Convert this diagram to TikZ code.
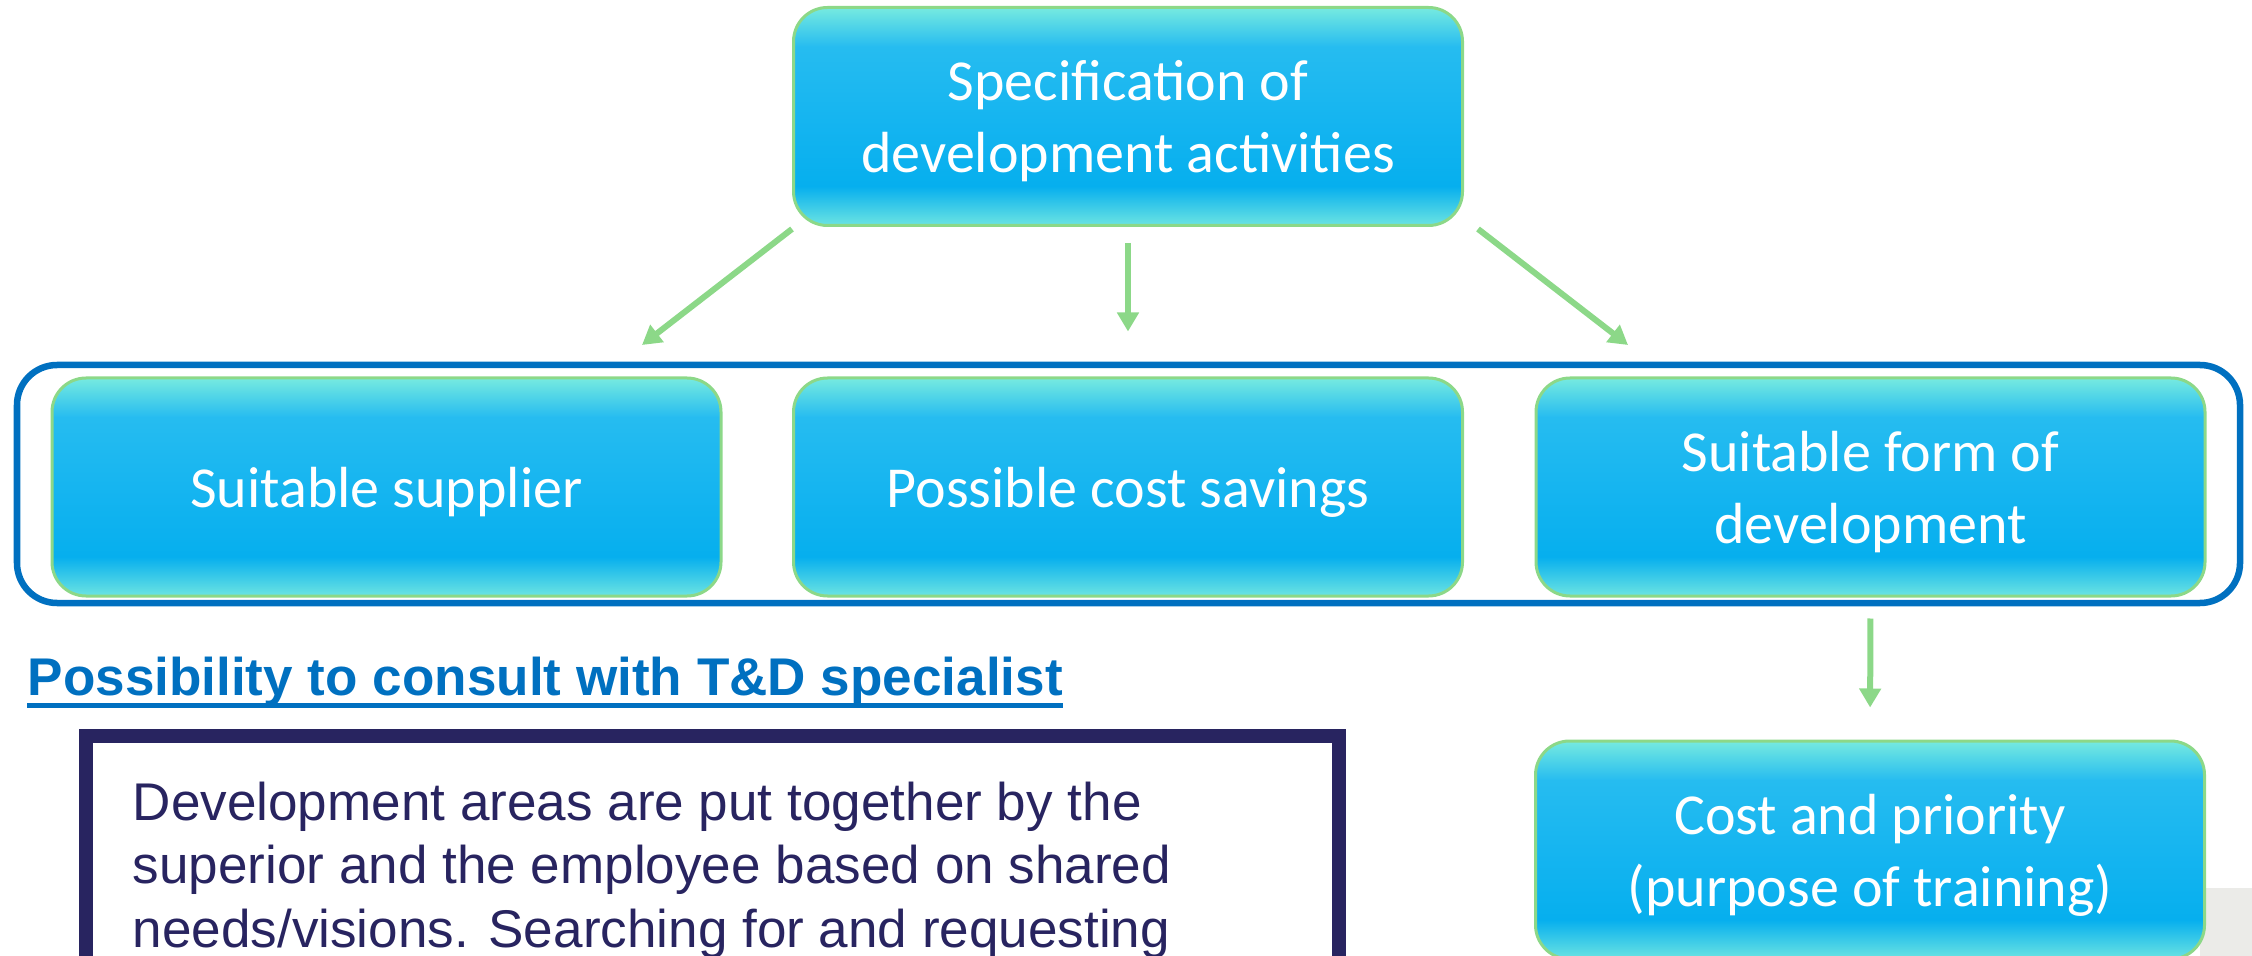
\documentclass[tikz,border=0pt]{standalone}
\usepackage{fontspec}
\setmainfont{Carlito}
\newfontfamily\arialfont{Liberation Sans}
\usepackage{xcolor}
\usepackage{tikz}
\usetikzlibrary{arrows.meta}

\definecolor{frameblue}{RGB}{0,112,192}
\definecolor{navy}{RGB}{40,36,96}
\definecolor{leafgreen}{RGB}{140,216,136}
\definecolor{greyback}{RGB}{235,235,232}
\definecolor{boxtop}{RGB}{118,234,224}
\definecolor{boxupper}{RGB}{38,188,240}
\definecolor{boxmid}{RGB}{22,181,240}
\definecolor{boxlow}{RGB}{6,175,238}
\definecolor{boxbottom}{RGB}{108,228,226}

\pgfdeclareverticalshading{boxshade}{100bp}{color(0bp)=(boxbottom); color(25bp)=(boxbottom);
  color(34bp)=(boxlow); color(50bp)=(boxmid); color(66bp)=(boxupper);
  color(75bp)=(boxtop); color(100bp)=(boxtop)}

\begin{document}
\begin{tikzpicture}[
  box/.style={draw=leafgreen, line width=0.03cm, rounded corners=0.34cm, shading=boxshade,
    minimum width=6.69cm, minimum height=2.18cm, inner sep=0, align=center, text depth=0pt,
    text=white, font=\fontsize{16.5}{20.5}\selectfont},
  arr/.style={draw=leafgreen, line width=0.06cm, -{Triangle[length=0.19cm,width=0.21cm]}},
  plain/.style={font=\arialfont\fontsize{15.1}{18.07}\selectfont, inner sep=0}
]
\useasboundingbox (0,0) rectangle (22.52,-9.56);
\clip (0,0) rectangle (22.52,-9.56);
\fill[greyback] (22.00,-8.88) rectangle (22.52,-9.56);

\node[box] (spec) at (11.28,-1.165) {Specification of\\development activities};
\node[box] (supplier) at (3.865,-4.87) {Suitable supplier};
\node[box] (savings) at (11.28,-4.87) {Possible cost savings};
\node[box] (form) at (18.705,-4.87) {Suitable form of\\development};
\node[box] (cost) at (18.70,-8.50) {Cost and priority\\(purpose of training)};

\draw[frameblue, line width=0.065cm, rounded corners=0.4cm] (0.17,-3.65) rectangle (22.40,-6.03);

\coordinate (lefttip) at (6.42,-3.45);
\coordinate (righttip) at (16.28,-3.45);
\draw[arr] ([shift={(0,-0.02)}]spec.south west) -- (lefttip);
\draw[arr, shorten <=0.16cm, shorten >=0.45cm] (spec.south) -- (savings.north);
\draw[arr] ([shift={(0.14,-0.02)}]spec.south east) -- (righttip);
\draw[arr, shorten <=0.21cm, shorten >=0.32cm] (form.south) -- (cost.north);

\node[plain, anchor=base west, text=frameblue, font=\arialfont\bfseries\fontsize{15.1}{18}\selectfont] (consult) at (0.27,-6.95) {Possibility to consult with T\&D specialist};
\draw[frameblue, line width=0.045cm] ([yshift=-0.105cm]consult.base west) -- ([yshift=-0.105cm]consult.base east);

\node[draw=navy, line width=0.14cm, minimum width=12.525cm, minimum height=3cm, anchor=north west, inner sep=0] (areabox) at (0.79,-7.29) {};
\node[plain, anchor=north west, align=left, text=navy] (areas) at (1.32,-7.81) {Development areas are put together by the\\superior and the employee based on shared\\needs/visions. Searching for and requesting};
\end{tikzpicture}
\end{document}
